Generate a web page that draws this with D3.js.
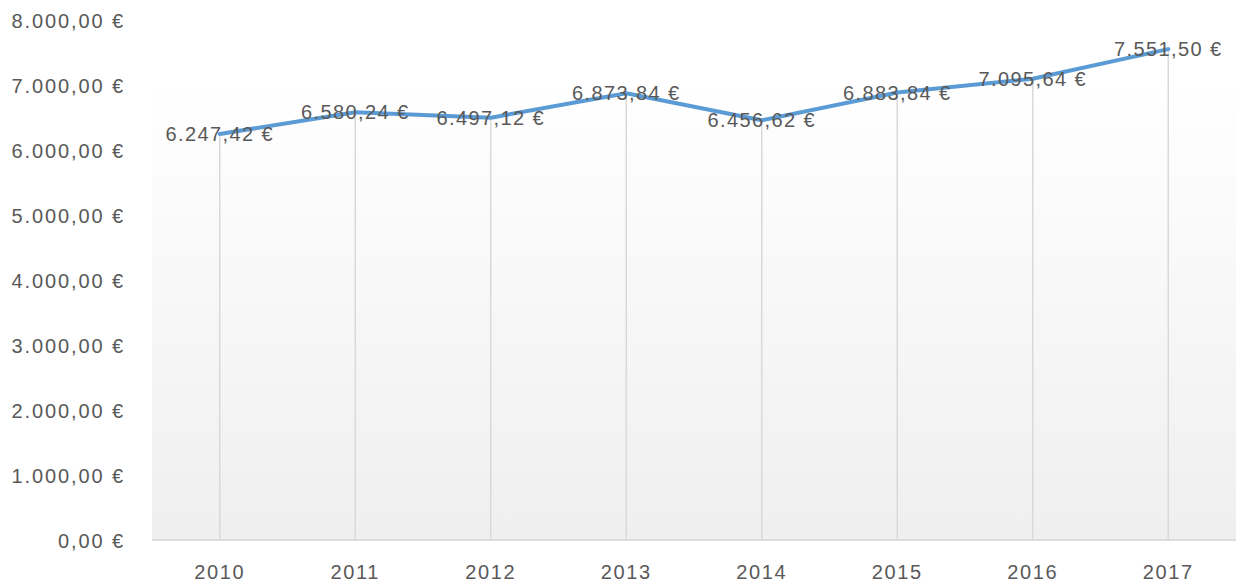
<!DOCTYPE html>
<html>
<head>
<meta charset="utf-8">
<script src="https://cdn.jsdelivr.net/npm/d3@7"></script>
<style>
  html, body { margin: 0; padding: 0; background: #ffffff; }
  svg { display: block; }
  text { font-family: "Liberation Sans", Arial, sans-serif; fill: #595959; }
</style>
</head>
<body>
<svg id="chart" width="1236" height="585"></svg>
<script>
const years = ["2010", "2011", "2012", "2013", "2014", "2015", "2016", "2017"];
const values = [6247.42, 6580.24, 6497.12, 6873.84, 6456.62, 6883.84, 7095.64, 7551.50];
const yTicks = [0, 1000, 2000, 3000, 4000, 5000, 6000, 7000, 8000];

const W = 1236, H = 585;
const margin = { left: 152, right: 0, top: 20, bottom: 45 };

const svg = d3.select("#chart");

const x = d3.scaleBand().domain(years).range([margin.left, W - margin.right]).padding(0);
const y = d3.scaleLinear().domain([0, 8000]).range([H - margin.bottom, margin.top]);

const fmt = v => {
  const s = v.toFixed(2).split(".");
  const intPart = s[0].replace(/\B(?=(\d{3})+(?!\d))/g, ".");
  return intPart + "," + s[1] + " €";
};

// gradient background
const defs = svg.append("defs");
const grad = defs.append("linearGradient").attr("id", "bg").attr("x1", 0).attr("y1", 0).attr("x2", 0).attr("y2", 1);
grad.append("stop").attr("offset", "0%").attr("stop-color", "#ffffff");
grad.append("stop").attr("offset", "100%").attr("stop-color", "#efefef");

const bgTop = y(7000) - 3;
svg.append("rect")
  .attr("x", margin.left).attr("y", bgTop)
  .attr("width", W - margin.right - margin.left)
  .attr("height", y(0) - bgTop)
  .attr("fill", "url(#bg)");

// baseline
svg.append("line")
  .attr("x1", margin.left).attr("x2", W - margin.right)
  .attr("y1", y(0)).attr("y2", y(0))
  .attr("stroke", "#dcdcdc").attr("stroke-width", 2);

// drop lines
svg.append("g").selectAll("line").data(values).join("line")
  .attr("x1", (d, i) => x(years[i]) + x.bandwidth() / 2)
  .attr("x2", (d, i) => x(years[i]) + x.bandwidth() / 2)
  .attr("y1", d => y(d)).attr("y2", y(0))
  .attr("stroke", "#d9d9d9").attr("stroke-width", 1.5);

// y axis labels
const yAxis = d3.axisLeft(y).tickValues(yTicks).tickFormat(fmt).tickSize(0).tickPadding(0);
const gy = svg.append("g").attr("transform", "translate(125,0)").call(yAxis);
gy.select(".domain").remove();
gy.selectAll("text")
  .attr("font-size", 20).style("letter-spacing", "1.9px")
  .attr("dy", "0.35em")
  .attr("font-family", "Liberation Sans, Arial, sans-serif")
  .attr("fill", "#595959");

// x axis labels
const xAxis = d3.axisBottom(x).tickSize(0).tickPadding(0);
const gx = svg.append("g").attr("transform", `translate(0,${y(0) + 32})`).call(xAxis);
gx.select(".domain").remove();
gx.selectAll("text")
  .attr("font-size", 20).style("letter-spacing", "1.6px")
  .attr("dy", "0.35em")
  .attr("font-family", "Liberation Sans, Arial, sans-serif")
  .attr("fill", "#595959");

// line
const line = d3.line()
  .x((d, i) => x(years[i]) + x.bandwidth() / 2)
  .y(d => y(d));
svg.append("path").datum(values)
  .attr("d", line)
  .attr("fill", "none")
  .attr("stroke", "#5b9bd5")
  .attr("stroke-width", 4)
  .attr("stroke-linejoin", "round")
  .attr("stroke-linecap", "round");

// data labels
svg.append("g").selectAll("text").data(values).join("text")
  .attr("x", (d, i) => x(years[i]) + x.bandwidth() / 2)
  .attr("y", d => y(d))
  .attr("dy", "0.35em")
  .attr("text-anchor", "middle")
  .attr("font-size", 20).style("letter-spacing", "1.4px")
  .attr("fill", "#595959")
  .text(d => fmt(d));
</script>
</body>
</html>
